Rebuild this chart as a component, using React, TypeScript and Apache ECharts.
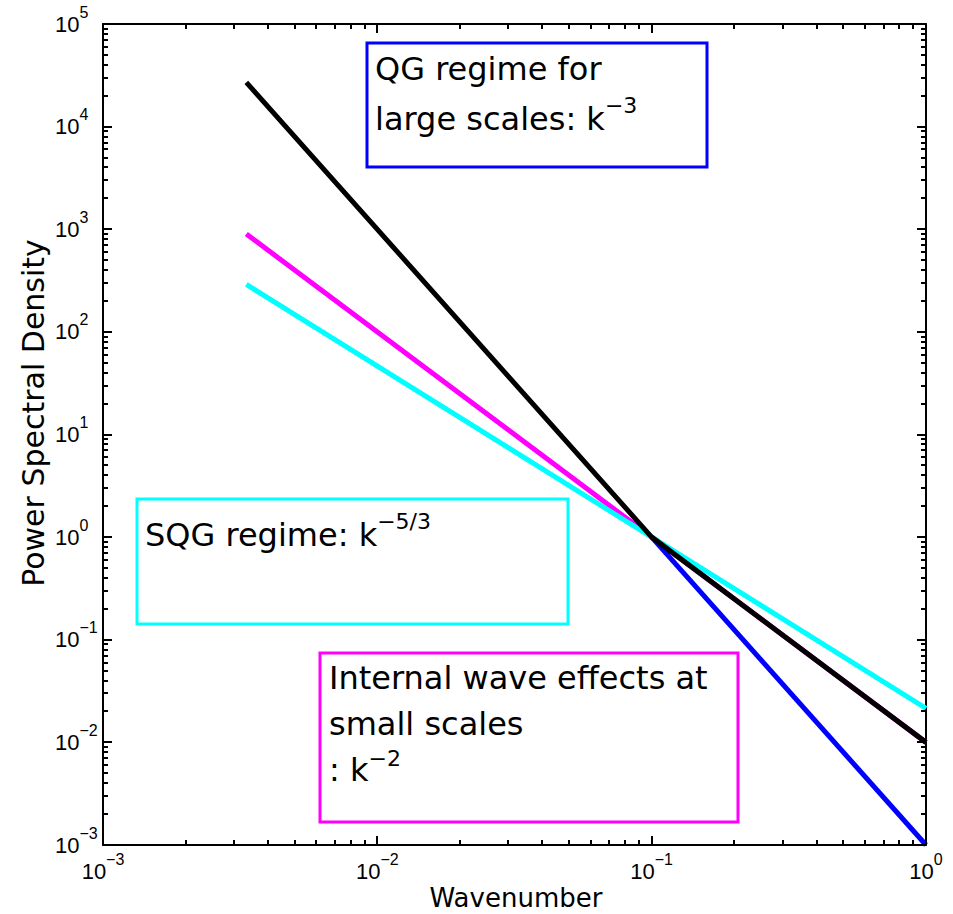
import { useEffect, useRef } from 'react';
import * as echarts from 'echarts';

// ---- data ----
const blackK = [0.00333, 0.1, 1];
const blackPSD = [27000, 1, 0.01];
const magentaK = [0.00333, 0.1, 1];
const magentaPSD = [900, 1, 0.01];
const cyanK = [0.00333, 0.1, 1];
const cyanPSD = [290, 1, 0.0215];
const blueK = [0.1, 1];
const bluePSD = [1, 0.001];

const xMin = 0.001;
const xMax = 1;
const yMin = 0.001;
const yMax = 100000;
const minorMultipliers = [2, 3, 4, 5, 6, 7, 8, 9];

const xTitle = 'Wavenumber';
const yTitle = 'Power Spectral Density';

const MINUS = '\u2212';
const boxFont = 'DejaVu Sans';
const tickFont = 'Liberation Sans';

function pairs(ks: number[], vs: number[]) {
  return ks.map((k, i) => [k, vs[i]]);
}

function decades(lo: number, hi: number) {
  const out: number[] = [];
  for (let e = Math.round(Math.log10(lo)); e <= Math.round(Math.log10(hi)); e++) out.push(Math.pow(10, e));
  return out;
}

function decadeMinors(lo: number, hi: number) {
  const out: number[] = [];
  for (let e = Math.round(Math.log10(lo)); e < Math.round(Math.log10(hi)); e++) {
    for (const m of minorMultipliers) out.push(m * Math.pow(10, e));
  }
  return out;
}

function supLabel(v: number) {
  const e = Math.round(Math.log10(v));
  const s = e < 0 ? MINUS + String(-e) : String(e);
  return `{b|10}{s|${s}}`;
}

const tickRich = {
  b: { fontSize: 22, fontFamily: tickFont, lineHeight: 40, verticalAlign: 'middle', color: '#000' },
  s: { fontSize: 16, fontFamily: tickFont, lineHeight: 21, verticalAlign: 'top', color: '#000' },
};

function boxRich(lineHeight: number) {
  return {
    a: { fontSize: 32, fontFamily: boxFont, lineHeight, verticalAlign: 'middle', fill: '#000' },
    s: { fontSize: 22, fontFamily: boxFont, lineHeight: 28, verticalAlign: 'top', fill: '#000' },
  };
}

export default function App() {
  const ref = useRef<HTMLDivElement>(null);
  useEffect(() => {
    if (!ref.current) return;
    const chart = echarts.init(ref.current, null, { renderer: 'svg' });
    const axisCommon = {
      type: 'log' as const,
      logBase: 10,
      axisLine: { show: true, lineStyle: { color: '#000', width: 2 } },
      axisTick: { show: false },
      splitLine: { show: false },
      minorTick: { show: false },
      minorSplitLine: { show: false },
    };

    const baseGraphics: any[] = [
      {
        type: 'text',
        x: 516,
        y: 898,
        style: { text: xTitle, fontSize: 26, fontFamily: boxFont, fill: '#000', align: 'center', verticalAlign: 'middle' },
      },
      {
        type: 'text',
        x: 33,
        y: 413,
        rotation: Math.PI / 2,
        style: { text: yTitle, fontSize: 30, fontFamily: boxFont, fill: '#000', align: 'center', verticalAlign: 'middle' },
      },
      {
        type: 'rect',
        shape: { x: 367, y: 43, width: 340, height: 124 },
        style: { fill: 'none', stroke: '#0000ff', lineWidth: 3 },
      },
      {
        type: 'text',
        x: 375,
        y: 44,
        style: {
          text: `{a|QG regime for}\n{a|large scales: k}{s|${MINUS}3}`,
          rich: boxRich(50), fontSize: 32, fontFamily: boxFont, fill: '#000', align: 'left', verticalAlign: 'top',
        },
      },
      {
        type: 'rect',
        shape: { x: 137, y: 499, width: 431, height: 125 },
        style: { fill: 'none', stroke: '#00ffff', lineWidth: 3 },
      },
      {
        type: 'text',
        x: 145,
        y: 510,
        style: {
          text: `{a|SQG regime: k}{s|${MINUS}5/3}`,
          rich: boxRich(50), fontSize: 32, fontFamily: boxFont, fill: '#000', align: 'left', verticalAlign: 'top',
        },
      },
      {
        type: 'rect',
        shape: { x: 320, y: 653, width: 418, height: 169 },
        style: { fill: 'none', stroke: '#ff00ff', lineWidth: 3 },
      },
      {
        type: 'text',
        x: 329,
        y: 655,
        style: {
          text: `{a|Internal wave effects at}\n{a|small scales}\n{a|: k}{s|${MINUS}2}`,
          rich: boxRich(46), fontSize: 32, fontFamily: boxFont, fill: '#000', align: 'left', verticalAlign: 'top',
        },
      },
    ];

    const option: any = {
      animation: false,
      backgroundColor: '#fff',
      grid: { left: 103, right: 27, top: 24, bottom: 69, containLabel: false },
      xAxis: [
        {
          ...axisCommon,
          position: 'bottom',
          min: xMin,
          max: xMax,
          splitNumber: 3,
          axisLabel: { show: true, margin: 6, showMinLabel: true, showMaxLabel: true, formatter: supLabel, rich: tickRich },
        },
        { ...axisCommon, position: 'top', min: xMin, max: xMax, splitNumber: 3, axisLabel: { show: false } },
      ],
      yAxis: [
        {
          ...axisCommon,
          position: 'left',
          min: yMin,
          max: yMax,
          splitNumber: 8,
          axisLabel: { show: true, margin: 48, align: 'left', showMinLabel: true, showMaxLabel: true, formatter: supLabel, rich: tickRich },
        },
        { ...axisCommon, position: 'right', min: yMin, max: yMax, splitNumber: 8, axisLabel: { show: false } },
      ],
      series: [
        { type: 'line', name: 'k^-2', data: pairs(magentaK, magentaPSD), showSymbol: false, symbol: 'none', lineStyle: { color: '#ff00ff', width: 5 }, z: 2 },
        { type: 'line', name: 'k^-5/3', data: pairs(cyanK, cyanPSD), showSymbol: false, symbol: 'none', lineStyle: { color: '#00ffff', width: 5 }, z: 3 },
        { type: 'line', name: 'k^-3', data: pairs(blueK, bluePSD), showSymbol: false, symbol: 'none', lineStyle: { color: '#0000ff', width: 5 }, z: 4 },
        { type: 'line', name: 'spectrum', data: pairs(blackK, blackPSD), showSymbol: false, symbol: 'none', lineStyle: { color: '#000000', width: 5 }, z: 5 },
      ],
      graphic: baseGraphics,
    };
    chart.setOption(option);

    // ticks on all four sides, placed through the axes' own log scales
    const tickStyle = { stroke: '#000', lineWidth: 2 };
    const tickGraphics: any[] = [];
    const bl = chart.convertToPixel({ gridIndex: 0 } as any, [xMin, yMin]) as number[];
    const tr = chart.convertToPixel({ gridIndex: 0 } as any, [xMax, yMax]) as number[];
    const left = bl[0];
    const bottom = bl[1];
    const right = tr[0];
    const top = tr[1];
    const addX = (vals: number[], len: number) => {
      for (const v of vals) {
        const px = Math.round(chart.convertToPixel({ xAxisIndex: 0 } as any, v) as unknown as number);
        tickGraphics.push({ type: 'line', silent: true, z: 10, shape: { x1: px, y1: bottom, x2: px, y2: bottom - len }, style: tickStyle });
        tickGraphics.push({ type: 'line', silent: true, z: 10, shape: { x1: px, y1: top, x2: px, y2: top + len }, style: tickStyle });
      }
    };
    const addY = (vals: number[], len: number) => {
      for (const v of vals) {
        const py = Math.round(chart.convertToPixel({ yAxisIndex: 0 } as any, v) as unknown as number);
        tickGraphics.push({ type: 'line', silent: true, z: 10, shape: { x1: left, y1: py, x2: left + len, y2: py }, style: tickStyle });
        tickGraphics.push({ type: 'line', silent: true, z: 10, shape: { x1: right, y1: py, x2: right - len, y2: py }, style: tickStyle });
      }
    };
    addX(decades(xMin, xMax), 9);
    addX(decadeMinors(xMin, xMax), 5);
    addY(decades(yMin, yMax), 9);
    addY(decadeMinors(yMin, yMax), 5);
    chart.setOption({ graphic: [...baseGraphics, ...tickGraphics] });

    return () => chart.dispose();
  }, []);
  return (
    <div ref={ref} style={{ position: 'fixed', left: 0, top: 0, width: 953, height: 914, background: '#fff' }} />
  );
}
